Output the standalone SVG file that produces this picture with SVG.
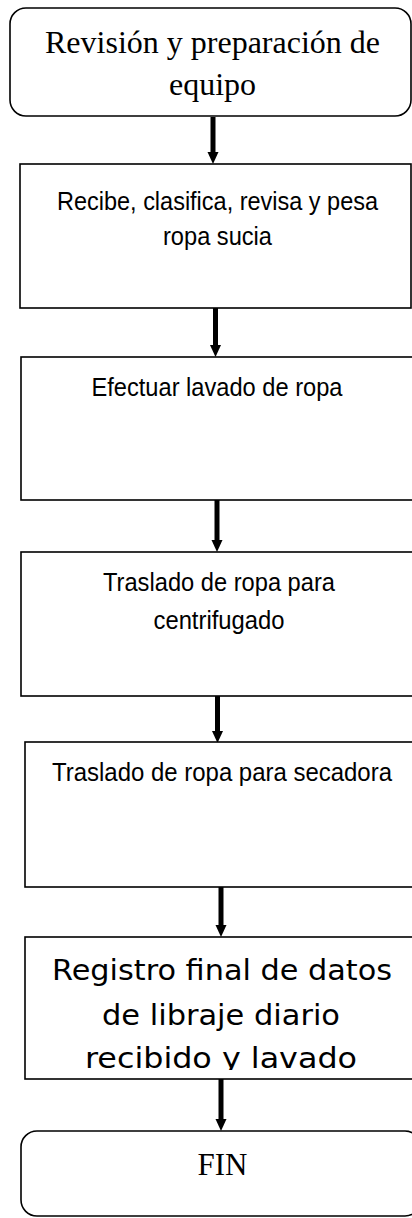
<svg xmlns="http://www.w3.org/2000/svg" width="412" height="1218" viewBox="0 0 412 1218">
<defs>
<style>
.box{fill:#fff;stroke:#000;stroke-width:1.6}
.serif{font-family:"Liberation Serif","Times New Roman",serif;fill:#000;text-anchor:middle}
.sans{font-family:"Liberation Sans",Arial,sans-serif;fill:#000;text-anchor:middle;font-size:25px}
.goth{font-family:"DejaVu Sans",sans-serif;fill:#000;text-anchor:middle;font-size:29px}
.shaft{stroke:#000;stroke-width:5;fill:none}
.head{fill:#000}
</style>
<clipPath id="clip6"><rect x="25" y="937" width="400" height="133"/></clipPath>
</defs>
<rect width="412" height="1218" fill="#fff"/>
<g id="connectors">
<line class="shaft" x1="213" y1="117" x2="213" y2="153"/><polygon class="head" points="207.5,152 218.5,152 213,164"/>
<line class="shaft" x1="215.5" y1="308" x2="215.5" y2="346"/><polygon class="head" points="210,345 221,345 215.5,357"/>
<line class="shaft" x1="217" y1="500" x2="217" y2="541"/><polygon class="head" points="211.5,540 222.5,540 217,552"/>
<line class="shaft" x1="217.5" y1="696" x2="217.5" y2="732"/><polygon class="head" points="212,731 223,731 217.5,743"/>
<line class="shaft" x1="221" y1="887" x2="221" y2="926"/><polygon class="head" points="215.5,925 226.5,925 221,937"/>
<line class="shaft" x1="221" y1="1079" x2="221" y2="1120"/><polygon class="head" points="215.5,1119 226.5,1119 221,1131"/>
</g>
<g id="n1">
<rect class="box" x="10" y="8" width="401" height="108" rx="16"/>
<text class="serif" font-size="32" x="212.5" y="53">Revisión y preparación de</text>
<text class="serif" font-size="32" x="212.5" y="95">equipo</text>
</g>
<g id="n2">
<rect class="box" x="20" y="164" width="391" height="144"/>
<text class="sans" x="217.5" y="210" textLength="321" lengthAdjust="spacingAndGlyphs">Recibe, clasifica, revisa y pesa</text>
<text class="sans" x="217.5" y="245" textLength="109" lengthAdjust="spacingAndGlyphs">ropa sucia</text>
</g>
<g id="n3">
<rect class="box" x="21" y="357" width="400" height="143"/>
<text class="sans" x="217" y="396" textLength="251" lengthAdjust="spacingAndGlyphs">Efectuar lavado de ropa</text>
</g>
<g id="n4">
<rect class="box" x="21" y="552" width="400" height="144"/>
<text class="sans" x="219" y="591" textLength="232" lengthAdjust="spacingAndGlyphs">Traslado de ropa para</text>
<text class="sans" x="219" y="629" textLength="131" lengthAdjust="spacingAndGlyphs">centrifugado</text>
</g>
<g id="n5">
<rect class="box" x="25" y="742" width="400" height="145"/>
<text class="sans" x="222" y="781" textLength="340" lengthAdjust="spacingAndGlyphs">Traslado de ropa para secadora</text>
</g>
<g id="n6">
<rect class="box" x="25" y="937" width="400" height="142"/>
<g clip-path="url(#clip6)">
<text class="goth" x="222" y="980" textLength="340" lengthAdjust="spacingAndGlyphs">Registro final de datos</text>
<text class="goth" x="221" y="1025" textLength="238" lengthAdjust="spacingAndGlyphs">de libraje diario</text>
<text class="goth" x="221" y="1068" textLength="272" lengthAdjust="spacingAndGlyphs">recibido y lavado</text>
</g>
</g>
<g id="n7">
<rect class="box" x="21" y="1131" width="400" height="85" rx="16"/>
<text class="serif" font-size="31" x="222.5" y="1175">FIN</text>
</g>
</svg>
